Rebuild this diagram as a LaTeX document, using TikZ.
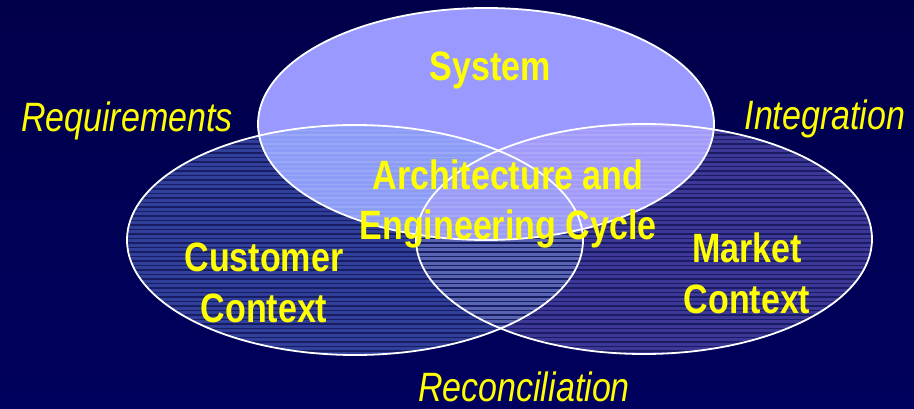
\documentclass[tikz,border=0pt]{standalone}
\usepackage{fontspec}
\setmainfont{Liberation Sans}[FakeStretch=0.83]
\definecolor{bgtop}{HTML}{00004A}
\definecolor{bgbottom}{HTML}{00005E}
\definecolor{labelyellow}{HTML}{FFFF00}
\definecolor{leftfill}{HTML}{2F3F9A}
\definecolor{rightfill}{HTML}{3D3798}
\definecolor{lowfill}{HTML}{5864B2}
\definecolor{topfill}{HTML}{9999FF}
\definecolor{topleftfill}{HTML}{8D9DF7}
\definecolor{toprightfill}{HTML}{A39BF9}
\definecolor{corefill}{HTML}{9D9DF8}
\definecolor{stripecolor}{HTML}{181C62}
\begin{document}
\begin{tikzpicture}[x=1pt,y=-1pt,
  boldlabel/.style={text=labelyellow, font=\bfseries\fontsize{41}{51}\selectfont,
    align=center, inner sep=0pt, anchor=base},
  sidelabel/.style={text=labelyellow, font=\itshape\fontsize{41}{51}\selectfont,
    inner sep=0pt, anchor=base},
  rim/.style={draw=white, line width=1.8pt},
  darkstripe/.style={draw=stripecolor, line width=1.3pt},
  lightstripe/.style={draw=white, opacity=0.12, line width=1.3pt}]
\useasboundingbox (0,0) rectangle (914,409);
\shade[top color=bgtop, bottom color=bgbottom] (0,0) rectangle (914,409);

% the three sets
\def\systemset{(486,124) ellipse [x radius=228, y radius=116]}
\def\customerset{(355,240) ellipse [x radius=228, y radius=115]}
\def\marketset{(644,239) ellipse [x radius=228, y radius=115]}

% lower sets and their overlap
\fill[leftfill] \customerset;
\fill[rightfill] \marketset;
\begin{scope}
  \clip \customerset;
  \fill[lowfill] \marketset;
\end{scope}
% horizontal hatching of the lower sets
\begin{scope}
  \clip \customerset \marketset;
  \foreach \yy in {126,130.5,...,358}
    \draw[darkstripe] (120,\yy) -- (880,\yy);
\end{scope}

% system set and its overlaps
\fill[topfill] \systemset;
\begin{scope}
  \clip \systemset;
  \fill[topleftfill] \customerset;
  \fill[toprightfill] \marketset;
  \begin{scope}
    \clip \customerset;
    \fill[corefill] \marketset;
  \end{scope}
  \begin{scope}
    \clip \customerset \marketset;
    \foreach \yy in {126,130.5,...,358}
      \draw[lightstripe] (120,\yy) -- (880,\yy);
  \end{scope}
\end{scope}

% outlines
\draw[rim] \customerset;
\draw[rim] \marketset;
\draw[rim] \systemset;

% labels (a two-line node sits on the baseline of its last line)
\node[boldlabel] (system) at (490,81) {System};
\node[boldlabel] (cycle) at (508,240) {Architecture and\\Engineering Cycle};
\node[boldlabel] (customer) at (264,322) {Customer\\Context};
\node[boldlabel] (market) at (747,313) {Market\\Context};
\node[sidelabel] (requirements) at (127,132) {Requirements};
\node[sidelabel] (integration) at (825,130) {Integration};
\node[sidelabel] (reconciliation) at (524,401) {Reconciliation};
\end{tikzpicture}
\end{document}
